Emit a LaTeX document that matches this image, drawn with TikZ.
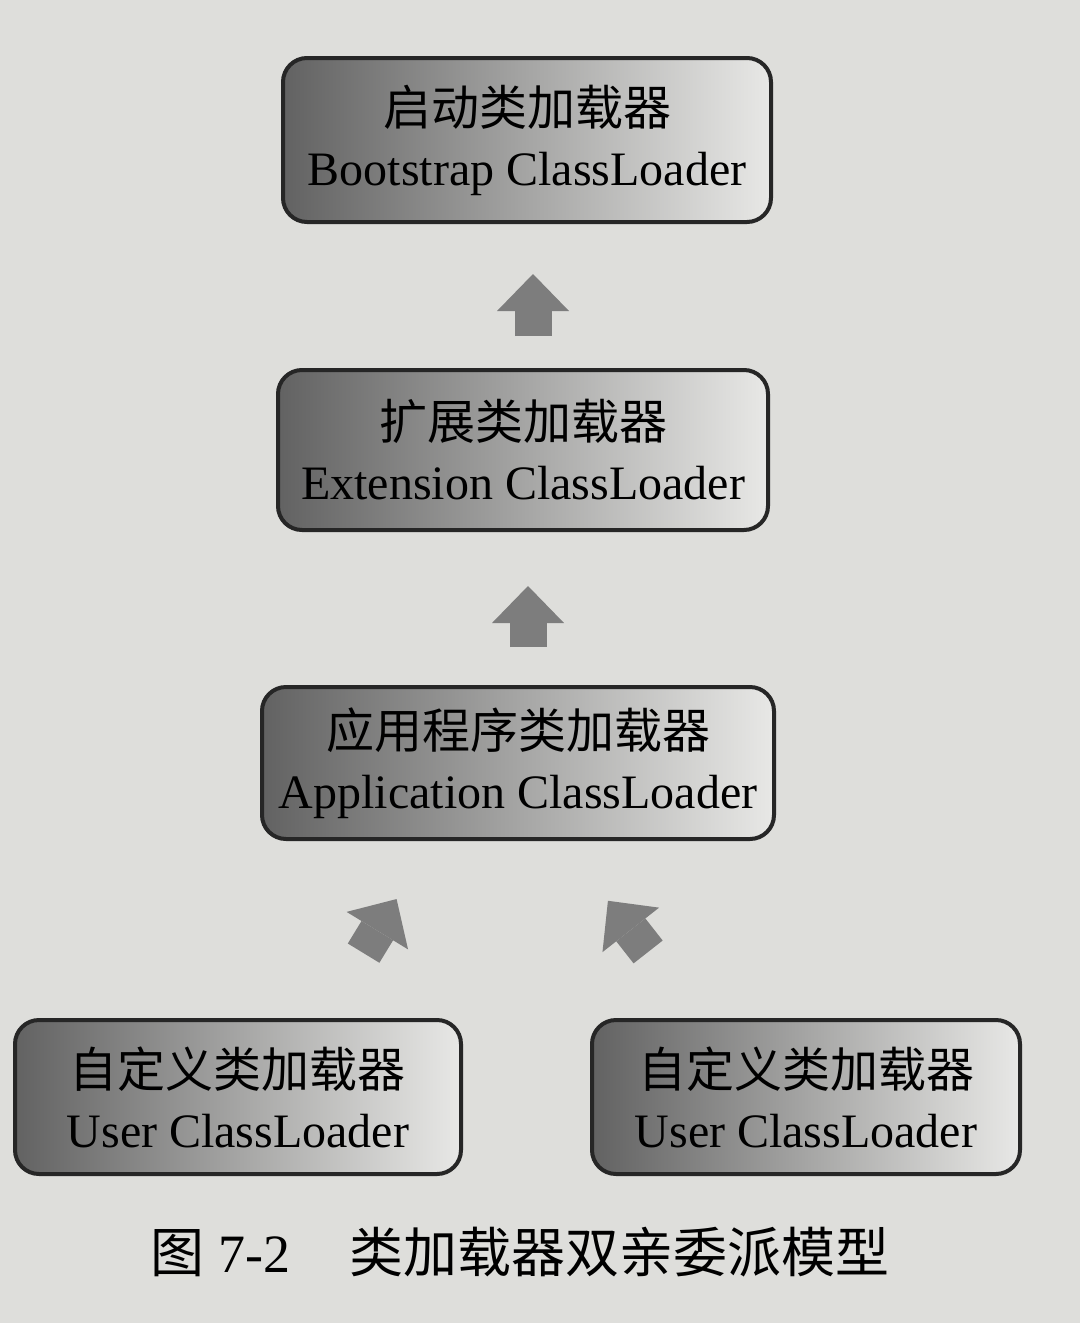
\documentclass[tikz,border=0pt]{standalone}
\usepackage{fontspec}
\setmainfont{Liberation Serif}
\newfontfamily\cjk{Noto Sans CJK SC}
\usetikzlibrary{arrows.meta}
\definecolor{paper}{RGB}{222,222,219}
\definecolor{boxdark}{RGB}{98,98,98}
\definecolor{boxlight}{RGB}{232,232,230}
\definecolor{arrowgray}{RGB}{125,125,125}
\tikzset{
  loader/.style={draw=black!85, line width=2pt, rounded corners=12pt,
    left color=boxdark, right color=boxlight, inner sep=0pt, align=center,
    font=\fontsize{24}{30}\selectfont},
  delegate/.style={draw=arrowgray, line width=18.5pt,
    -{Triangle[length=18.5pt,width=36pt,line width=0pt,fill=arrowgray]}}
}
\begin{document}
\begin{tikzpicture}[x=0.5pt,y=-0.5pt]
%Shape: page [id:paper]
\fill[paper] (0,0) rectangle (1080,1323);
\useasboundingbox (0,0) rectangle (1080,1323);

%Shape: Rounded Rectangles [id:loaders]
\node[loader, minimum width=244pt, minimum height=82pt] (boot) at (527,140) {{\cjk 启动类加载器}\\Bootstrap ClassLoader};
\node[loader, minimum width=245pt, minimum height=80pt] (ext) at (523,450) {{\cjk 扩展类加载器}\\Extension ClassLoader};
\node[loader, minimum width=256pt, minimum height=76pt] (app) at (518,763) {{\cjk 应用程序类加载器}\\Application ClassLoader};
\node[loader, minimum width=223pt, minimum height=77pt] (userA) at (238,1097) {{\cjk 自定义类加载器}\\User ClassLoader};
\node[loader, minimum width=214pt, minimum height=77pt] (userB) at (806,1097) {{\cjk 自定义类加载器}\\User ClassLoader};

%Block Arrows [id:delegation]
\draw[delegate, shorten <=16pt, shorten >=25pt] ([xshift=5pt]ext.north) -- ([xshift=3pt]boot.south);
\draw[delegate, shorten <=19pt, shorten >=27pt] ([xshift=5pt]app.north) -- ([xshift=2.5pt]ext.south);
\draw[delegate, shorten <=38pt, shorten >=34pt] ([xshift=43pt]userA.north) -- ([xshift=-43pt]app.south);
\draw[delegate, shorten <=42pt, shorten >=38pt] ([xshift=-53pt]userB.north) -- ([xshift=21.5pt]app.south);

% Text Node
\node[font=\fontsize{27}{32}\selectfont] (caption) at (520,1252) {{\cjk 图}~7-2\hspace{1.1em}{\cjk 类加载器双亲委派模型}};

\end{tikzpicture}
\end{document}
